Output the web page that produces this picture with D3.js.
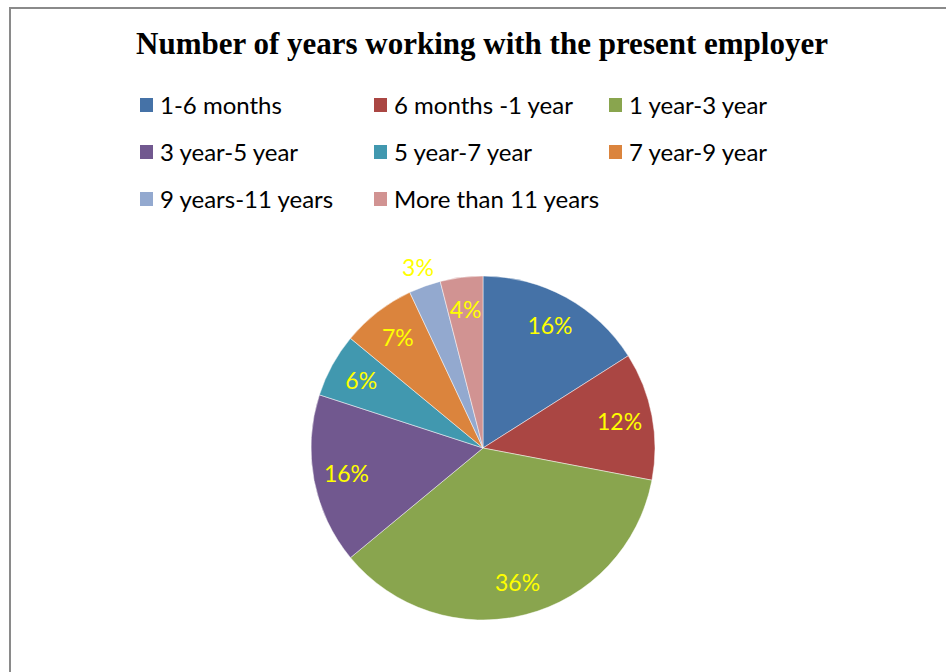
<!DOCTYPE html>
<html>
<head>
<meta charset="utf-8">
<script src="https://cdn.jsdelivr.net/npm/d3@7"></script>
<style>
  html, body { margin: 0; padding: 0; background: #fff; }
  svg { display: block; }
</style>
</head>
<body>
<svg id="chart" width="946" height="672"></svg>
<script>
// Tenure with the present employer (share of respondents, %)
const categories = [
  "1-6 months", "6 months -1 year", "1 year-3 year", "3 year-5 year",
  "5 year-7 year", "7 year-9 year", "9 years-11 years", "More than 11 years"
];
const shares = [16, 12, 36, 16, 6, 7, 3, 4];
const colors = [
  "#4572A7", "#AA4643", "#89A54E", "#71588F",
  "#4198AF", "#DB843D", "#93A9CF", "#D19392"
];
const title = "Number of years working with the present employer";

const svg = d3.select("#chart");
const W = 946, H = 672;

// frame of the chart area
svg.append("line").attr("x1", 10).attr("x2", W).attr("y1", 8).attr("y2", 8)
  .attr("stroke", "#8a8a8a").attr("stroke-width", 2);
svg.append("line").attr("x1", 10).attr("x2", 10).attr("y1", 7).attr("y2", H)
  .attr("stroke", "#8a8a8a").attr("stroke-width", 2);

// title
svg.append("text")
  .attr("x", 482).attr("y", 54)
  .attr("text-anchor", "middle")
  .attr("font-family", "'Liberation Serif', 'Times New Roman', serif")
  .attr("font-weight", "bold")
  .attr("font-size", 31)
  .attr("fill", "#000")
  .text(title);

// legend: 3 columns, rows filled left to right
const color = d3.scaleOrdinal().domain(categories).range(colors);
const colX = [140, 374, 609];
const rowY = [105, 152, 199];
const legend = svg.append("g").attr("class", "legend");
categories.forEach((c, i) => {
  const x = colX[i % 3], y = rowY[Math.floor(i / 3)];
  const g = legend.append("g").attr("transform", `translate(${x},${y})`);
  g.append("rect").attr("x", 0).attr("y", -7).attr("width", 13).attr("height", 14)
    .attr("fill", color(c));
  g.append("text").attr("x", 20).attr("y", 8.5)
    .attr("font-family", "Lato, 'Open Sans', sans-serif")
    .attr("font-size", 24)
    .attr("fill", "#000")
    .text(c);
});

// pie
const cx = 483, cy = 448, R = 172;
const pie = d3.pie().sort(null).value(d => d.value);
const data = pie(categories.map((c, i) => ({ name: c, value: shares[i] })));
const arc = d3.arc().innerRadius(0).outerRadius(R);
const g = svg.append("g").attr("transform", `translate(${cx},${cy})`);

g.selectAll("path.slice").data(data).join("path")
  .attr("class", "slice")
  .attr("d", arc)
  .attr("fill", d => color(d.data.name))
  .attr("stroke", "#ffffff")
  .attr("stroke-width", 0.6)
  .attr("stroke-opacity", 0.8);

// labels: inside for most slices, outside for the smallest
const inner = d3.arc().innerRadius(139).outerRadius(139);
const outer = d3.arc().innerRadius(192).outerRadius(192);
g.selectAll("text.pct").data(data).join("text")
  .attr("class", "pct")
  .attr("transform", d => `translate(${(d.data.value < 4 ? outer : inner).centroid(d)})`)
  .attr("text-anchor", "middle")
  .attr("dy", "0.36em")
  .attr("font-family", "Lato, 'Open Sans', sans-serif")
  .attr("font-size", 23)
  .attr("fill", "#FFFF00")
  .text(d => d.data.value + "%");
</script>
</body>
</html>
